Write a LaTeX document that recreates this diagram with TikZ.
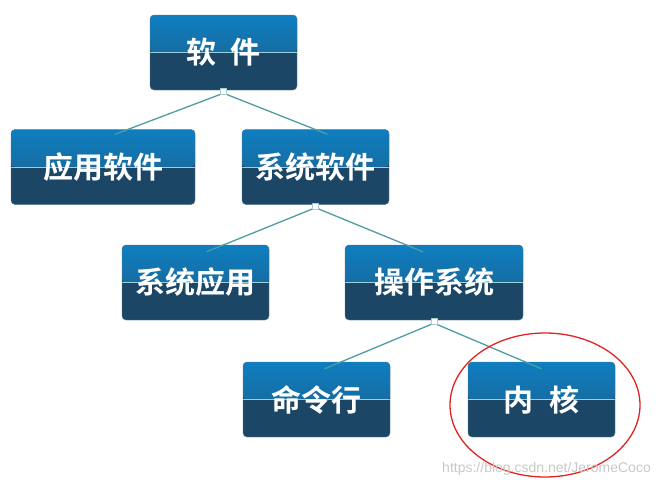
\documentclass[tikz,border=0pt]{standalone}
\usepackage{fontspec}
\setmainfont{Liberation Sans}
\newfontfamily\cjk{Noto Sans CJK SC}[BoldFont={* Bold}]
\usetikzlibrary{calc}
\definecolor{boxtop}{HTML}{0E7EC0}
\definecolor{boxmid}{HTML}{1F5C86}
\definecolor{boxbot}{HTML}{1C4666}
\definecolor{midline}{HTML}{9CD0DC}
\definecolor{conn}{HTML}{4E9CA4}
\definecolor{ring}{HTML}{E02424}
\definecolor{wm}{HTML}{C8C8C8}
\tikzset{
  box/.style={rounded corners=4pt, fill=boxbot, draw=boxbot!70!white, line width=0.4pt,
    minimum height=75pt, text=white, font=\cjk\bfseries\fontsize{30}{34}\selectfont,
    inner sep=0pt,
    path picture={
      \shade[top color=boxtop, bottom color=boxmid]
        (path picture bounding box.north west) rectangle (path picture bounding box.east);
      \draw[midline, line width=0.8pt]
        (path picture bounding box.west) -- (path picture bounding box.east);
    }},
  connector/.style={conn, line width=1.3pt},
  knob/.style={fill=white, draw=conn!50!white, line width=0.4pt, minimum size=6pt, inner sep=0pt},
}
\begin{document}
\begin{tikzpicture}[x=1pt,y=-1pt]
\useasboundingbox (0,0) rectangle (661,488);
% boxes
\node[box, minimum width=147pt] (soft) at (223.5,52.5) {软\hspace{14pt}件};
\node[box, minimum width=184pt] (app) at (103,167) {应用软件};
\node[box, minimum width=147pt] (sys) at (315.5,167) {系统软件};
\node[box, minimum width=147pt] (sysapp) at (195.5,282.5) {系统应用};
\node[box, minimum width=178pt] (os) at (434,282.5) {操作系统};
\node[box, minimum width=147pt] (cmd) at (316.5,399.5) {命令行};
\node[box, minimum width=147pt] (kernel) at (541.5,399.5) {内\hspace{16pt}核};
% connectors
\coordinate (appTop) at ($(app.north)+(12,5)$);
\coordinate (sysTop) at ($(sys.north)+(12,5)$);
\coordinate (sysappTop) at ($(sysapp.north)+(11,7)$);
\coordinate (osTop) at ($(os.north)+(-11,7)$);
\coordinate (cmdTop) at ($(cmd.north)+(8,7)$);
\coordinate (kernelTop) at ($(kernel.north)+(0,7)$);
\draw[connector] ($(soft.south)+(0,3)$) -- (appTop);
\draw[connector] ($(soft.south)+(0,3)$) -- (sysTop);
\draw[connector] ($(sys.south)+(0,3)$) -- (sysappTop);
\draw[connector] ($(sys.south)+(0,3)$) -- (osTop);
\draw[connector] ($(os.south)+(0,3)$) -- (cmdTop);
\draw[connector] ($(os.south)+(0,3)$) -- (kernelTop);
\node[knob] (k1) at ($(soft.south)+(0,1)$) {};
\node[knob] (k2) at ($(sys.south)+(0,1)$) {};
\node[knob] (k3) at ($(os.south)+(0,1)$) {};
% highlight ring
\draw[ring, line width=1.3pt] (545,405) ellipse [x radius=95, y radius=72];
% watermark
\node[anchor=east, text=wm, font=\fontsize{14}{16}\selectfont, inner sep=0pt] (wmark) at (651,469) {https://blog.csdn.net/JeromeCoco};
\end{tikzpicture}
\end{document}
